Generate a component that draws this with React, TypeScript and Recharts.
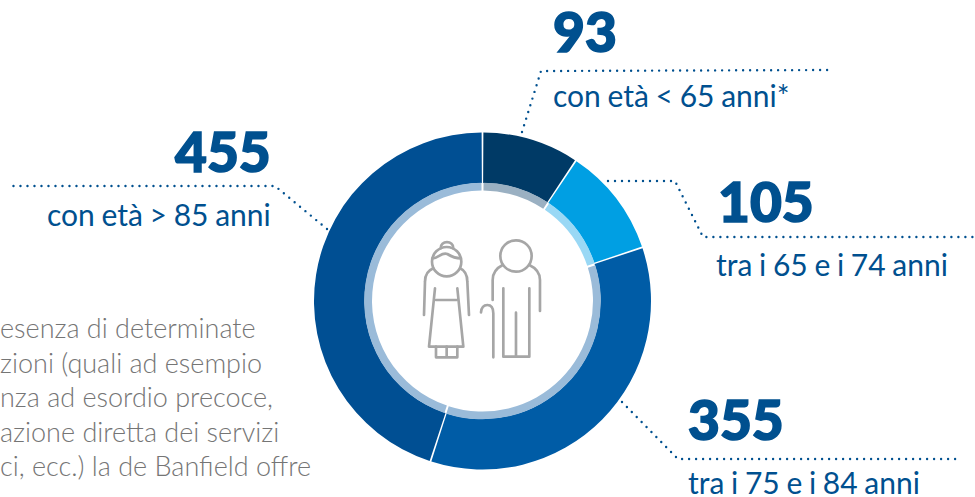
import React from "react";
import { PieChart, Pie, Cell } from "recharts";

const categories = ["con età < 65 anni*", "tra i 65 e i 74 anni", "tra i 75 e i 84 anni", "con età > 85 anni"];
const values = [93, 105, 355, 455];
const outerColors = ["#003a66", "#009fe3", "#005ca6", "#004f93"];
const innerColors = ["#9ab0c2", "#99d8f5", "#9abbd9", "#9abbd9"];
const noteLines = [
  "esenza di determinate",
  "zioni (quali ad esempio",
  "nza ad esordio precoce,",
  "azione diretta dei servizi",
  "ci, ecc.) la de Banfield offre",
];

const data = categories.map((name, i) => ({ name, value: values[i] }));
const BLUE = "#00508f";
const FONT = "Lato, 'Noto Sans', sans-serif";

const ticks = [
  { num: 0, numX: 553, numY: 52, labelX: 553, labelY: 107, leader: "M522 132L541 71L828 70" },
  { num: 1, numX: 718, numY: 222, labelX: 716, labelY: 276, leader: "M608 181L675 181L703 237L973 237" },
  { num: 2, numX: 688, numY: 440, labelX: 688, labelY: 494, leader: "M622 402L678 459L960 459" },
  { num: 3, numX: 175, numY: 172, labelX: 47, labelY: 226, leader: "M327 229L275 186L11 186" },
];

export default function App() {
  return (
    <div style={{ position: "absolute", left: 0, top: 0 }}>
      <PieChart width={975} height={497} margin={{ top: 0, right: 0, bottom: 0, left: 0 }}>
        <Pie data={data} dataKey="value" cx={482.5} cy={301} innerRadius={118} outerRadius={168.5} startAngle={89.7} endAngle={-270.3} paddingAngle={0.6} stroke="none" isAnimationActive={false}>
          {data.map((d, i) => <Cell key={d.name} fill={outerColors[i]} />)}
        </Pie>
        <Pie data={data} dataKey="value" cx={482.5} cy={301} innerRadius={110.5} outerRadius={118.3} startAngle={89.5} endAngle={-270.5} paddingAngle={1} stroke="none" isAnimationActive={false}>
          {data.map((d, i) => <Cell key={d.name} fill={innerColors[i]} />)}
        </Pie>

        {ticks.map((t) => (
          <g key={t.num}>
            <path d={t.leader} fill="none" stroke={BLUE} strokeWidth={2.4} strokeLinecap="round" strokeDasharray="0 7" />
            <text x={t.numX} y={t.numY} fontFamily={FONT} fontWeight={900} fontSize={55} fill={BLUE} stroke={BLUE} strokeWidth={1.6}>{values[t.num]}</text>
            <text x={t.labelX} y={t.labelY} fontFamily={FONT} fontSize={30} wordSpacing={-1} fill={BLUE}>{categories[t.num]}</text>
          </g>
        ))}

        {noteLines.map((line, i) => (
          <text key={line} x={0} y={338 + i * 34.6} fontFamily={FONT} fontWeight={300} fontSize={27} fill="#757575">{line}</text>
        ))}

        <g transform="translate(410 230) scale(0.3333)" fill="none" stroke="#a6a6a6" strokeWidth={8} strokeLinecap="round" strokeLinejoin="round">
          <circle cx={110} cy={95} r={44} />
          <path d="M92 55C90 30 132 30 130 55" />
          <path d="M68 85C85 85 95 65 112 72C125 80 135 85 152 85" />
          <path d="M70 115Q45 125 45 155L42 255" />
          <path d="M150 115Q172 125 172 155L177 255" />
          <path d="M75 175L57 350L160 350L142 175" />
          <path d="M78 210L140 210" />
          <path d="M78 350L78 382L142 382L142 350M110 350L110 382" />
          <circle cx={318} cy={78} r={47} />
          <path d="M278 105Q248 120 248 150L248 210" />
          <path d="M358 105Q390 120 390 150L390 243" />
          <path d="M280 175L280 380L358 380L358 175M318 248L318 380" />
          <path d="M213 247Q215 225 232 225Q250 225 250 250L250 382" />
        </g>
      </PieChart>
    </div>
  );
}
